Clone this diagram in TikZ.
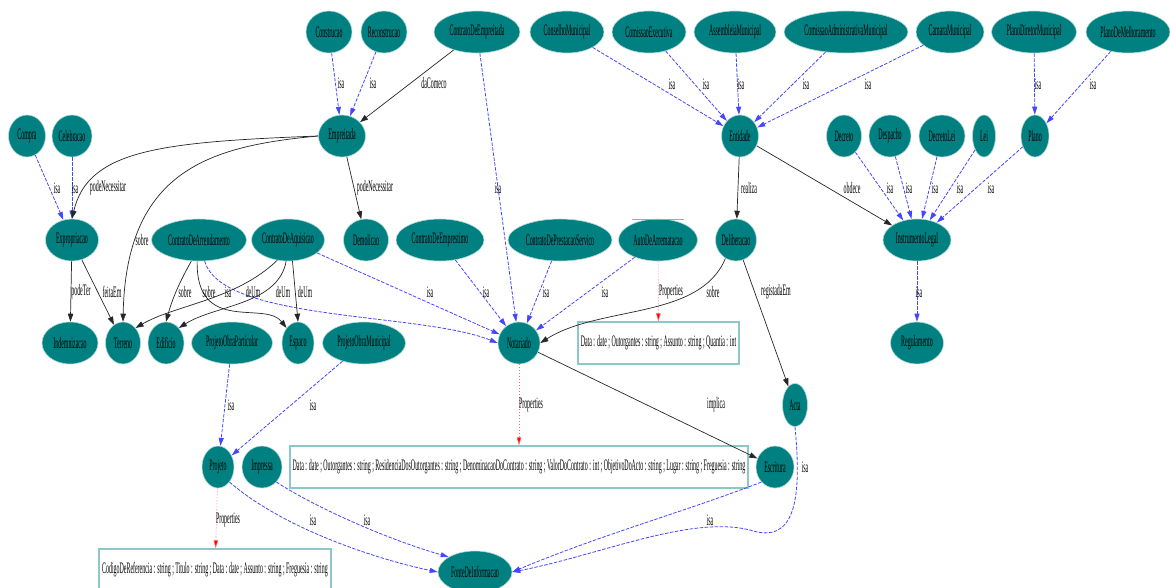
\documentclass[tikz,border=0pt]{standalone}
\usepackage{fontspec}
\setmainfont{Liberation Serif}[FakeStretch=0.37]
\usetikzlibrary{shapes.geometric,arrows.meta}
\definecolor{tealfill}{RGB}{0,128,128}
\definecolor{isablue}{RGB}{70,70,255}
\definecolor{boxline}{RGB}{140,200,200}
\tikzset{
  ent/.style={ellipse, fill=tealfill, draw=tealfill!30, line width=0.6pt, inner sep=0pt,
    minimum height=42pt, font=\fontsize{16}{18}\selectfont},
  propbox/.style={rectangle, draw=boxline, line width=1.4pt, fill=white, inner sep=0pt,
    minimum height=42pt, font=\fontsize{16}{18}\selectfont},
  lbl/.style={font=\fontsize{16}{18}\selectfont, inner sep=0pt},
  isa/.style={draw=isablue, line width=0.8pt, dash pattern=on 3.5pt off 1.5pt,
    -{Triangle[length=8pt,width=5pt,fill=isablue]}},
  rel/.style={draw=black!85, line width=0.7pt, -{Triangle[length=8pt,width=5.5pt]}},
  prop/.style={draw=red!60, line width=0.6pt, dash pattern=on 1pt off 2pt,
    -{Triangle[length=8pt,width=4.5pt,fill=red]}},
}
\begin{document}
\begin{tikzpicture}[x=1pt,y=-1pt]
\useasboundingbox (0,0) rectangle (1170,587);
% top row
\node[ent, minimum width=46pt] (Construcao) at (329,32) {Construcao};
\node[ent, minimum width=46pt] (Reconstrucao) at (384,32) {Reconstrucao};
\node[ent, minimum width=86pt] (ContratoDeEmpreitada) at (477,32) {ContratoDeEmpreitada};
\node[ent, minimum width=74pt] (ConselhoMunicipal) at (567,32) {ConselhoMunicipal};
\node[ent, minimum width=74pt] (ComissaoExecutiva) at (649,32) {ComissaoExecutiva};
\node[ent, minimum width=82pt] (AssembleiaMunicipal) at (735,32) {AssembleiaMunicipal};
\node[ent, minimum width=124pt] (ComissaoAdministrativaMunicipal) at (846,32) {ComissaoAdministrativaMunicipal};
\node[ent, minimum width=68pt] (CamaraMunicipal) at (950,32) {CamaraMunicipal};
\node[ent, minimum width=85pt] (PlanoDiretorMunicipal) at (1034,32) {PlanoDiretorMunicipal};
\node[ent, minimum width=84pt] (PlanoDeMelhoramento) at (1128,32) {PlanoDeMelhoramento};
% second row
\node[ent, minimum width=37pt] (Compra) at (27,136) {Compra};
\node[ent, minimum width=40pt] (Celebracao) at (72,136) {Celebracao};
\node[ent, minimum width=47pt] (Empreitada) at (342,136) {Empreitada};
\node[ent, minimum width=37pt] (Entidade) at (740,136) {Entidade};
\node[ent, minimum width=35pt] (Decreto) at (844,136) {Decreto};
\node[ent, minimum width=42pt] (Despacho) at (890,136) {Despacho};
\node[ent, minimum width=46pt] (DecretoLei) at (942,136) {DecretoLei};
\node[ent, minimum width=23pt] (Lei) at (984,136) {Lei};
\node[ent, minimum width=28pt] (Plano) at (1035,136) {Plano};
% third row
\node[ent, minimum width=53pt] (Expropriacao) at (72,240) {Expropriacao};
\node[ent, minimum width=95pt] (ContratoDeArrendamento) at (199,240) {ContratoDeArrendamento};
\node[ent, minimum width=68pt] (ContratoDeAquisicao) at (288,240) {ContratoDeAquisicao};
\node[ent, minimum width=45pt] (Demolicao) at (366,240) {Demolicao};
\node[ent, minimum width=88pt] (ContratoDeEmprestimo) at (440,240) {ContratoDeEmprestimo};
\node[ent, minimum width=104pt] (ContratoDePrestacaoServico) at (560,240) {ContratoDePrestacaoServico};
\node[ent, minimum width=79pt] (AutoDeArrematacao) at (658,240) {AutoDeArrematacao};
\node[ent, minimum width=41pt] (Deliberacao) at (736,240) {Deliberacao};
\node[ent, minimum width=68pt] (InstrumentoLegal) at (917,240) {InstrumentoLegal};
% fourth row
\node[ent, minimum width=56pt] (Indemnizacao) at (70,343) {Indemnizacao};
\node[ent, minimum width=35pt] (Terreno) at (123,343) {Terreno};
\node[ent, minimum width=36pt] (Edificio) at (166,343) {Edificio};
\node[ent, minimum width=81pt] (ProjetoObraParticular) at (232,343) {ProjetoObraParticular};
\node[ent, minimum width=32pt] (Espaco) at (298,343) {Espaco};
\node[ent, minimum width=83pt] (ProjetoObraMunicipal) at (364,343) {ProjetoObraMunicipal};
\node[ent, minimum width=42pt] (Notariado) at (519,343) {Notariado};
\node[propbox, minimum width=161pt] (PropAuto) at (658.5,343) {Data : date ; Outorgantes : string ; Assunto : string ; Quantia : int};
\node[ent, minimum width=53pt] (Regulamento) at (917,343) {Regulamento};
\node[ent, minimum width=25pt, minimum height=43pt] (Acta) at (795,405) {Acta};
% fifth row
\node[ent, minimum width=32pt] (Projeto) at (218,467) {Projeto};
\node[ent, minimum width=40pt] (Impressa) at (262,467) {Impressa};
\node[propbox, minimum width=458pt] (PropNotariado) at (519,467) {Data : date ; Outorgantes : string ; ResidenciaDosOutorgantes : string ; DenominacaoDoContrato : string ; ValorDoContrato : int ; ObjetivoDoActo : string ; Lugar : string ; Freguesia : string};
\node[ent, minimum width=38pt] (Escritura) at (775,467) {Escritura};
% bottom row
\node[propbox, minimum width=232pt] (PropProjeto) at (215,570) {CodigoDeReferencia : string ; Titulo : string ; Data : date ; Assunto : string ; Freguesia : string};
\node[ent, minimum width=74pt] (FonteDeInformacao) at (475,572) {FonteDeInformacao};
% small grey mark above AutoDeArrematacao
\coordinate (greyA) at (632,219.5);
\coordinate (greyB) at (684,219.5);
\draw[black!35, line width=0.6pt] (greyA) -- (greyB);

% edges: top
\draw[isa] (Construcao) -- (Empreitada) node[lbl] at (341,83) {isa};
\draw[isa] (Reconstrucao) -- (Empreitada) node[lbl] at (373,83) {isa};
\draw[rel] (ContratoDeEmpreitada) -- (Empreitada) node[lbl] at (434,83) {daComeco};
\draw[isa] (ContratoDeEmpreitada) -- (Notariado) node[lbl] at (498,188) {isa};
\draw[isa] (ConselhoMunicipal) -- (Entidade) node[lbl] at (672,84) {isa};
\draw[isa] (ComissaoExecutiva) -- (Entidade) node[lbl] at (706,84) {isa};
\draw[isa] (AssembleiaMunicipal) -- (Entidade) node[lbl] at (741,84) {isa};
\draw[isa] (ComissaoAdministrativaMunicipal) -- (Entidade) node[lbl] at (806,84) {isa};
\draw[isa] (CamaraMunicipal) -- (Entidade) node[lbl] at (868,84) {isa};
\draw[isa] (PlanoDiretorMunicipal) -- (Plano) node[lbl] at (1038,84) {isa};
\draw[isa] (PlanoDeMelhoramento) -- (Plano) node[lbl] at (1093,84) {isa};
% second level
\draw[isa] (Compra) -- (Expropriacao) node[lbl] at (57,188) {isa};
\draw[isa] (Celebracao) -- (Expropriacao) node[lbl] at (75,188) {isa};
\draw[rel] (Empreitada.west) .. controls (160,142) and (88,150) .. (Expropriacao.north) node[lbl] at (108,188) {podeNecessitar};
\draw[rel] (Empreitada.west) .. controls (210,146) and (126,170) .. (Terreno.north) node[lbl] at (142,240) {sobre};
\draw[rel] (Empreitada) -- (Demolicao) node[lbl] at (375,188) {podeNecessitar};
\draw[rel] (Entidade) -- (Deliberacao) node[lbl] at (749,188) {realiza};
\draw[rel] (Entidade) -- (InstrumentoLegal) node[lbl] at (852,188) {obdece};
\draw[isa] (Decreto) -- (InstrumentoLegal) node[lbl] at (890,188) {isa};
\draw[isa] (Despacho) -- (InstrumentoLegal) node[lbl] at (909,188) {isa};
\draw[isa] (DecretoLei) -- (InstrumentoLegal) node[lbl] at (935,188) {isa};
\draw[isa] (Lei) -- (InstrumentoLegal) node[lbl] at (960,188) {isa};
\draw[isa] (Plano) -- (InstrumentoLegal) node[lbl] at (991,188) {isa};
% third level
\draw[rel] (Expropriacao) -- (Indemnizacao) node[lbl] at (81,292) {podeTer};
\draw[rel] (Expropriacao) -- (Terreno) node[lbl] at (112,292) {feitaEm};
\draw[rel] (ContratoDeArrendamento.250) .. controls (178,285) and (172,300) .. (Edificio.north) node[lbl] at (185,292) {sobre};
\draw[rel] (ContratoDeArrendamento.265) .. controls (196,335) and (265,300) .. (Espaco.north west) node[lbl] at (209,292) {sobre};
\draw[isa] (ContratoDeArrendamento.285) .. controls (222,322) and (420,312) .. (Notariado.west) node[lbl] at (228,292) {isa};
\draw[rel] (ContratoDeAquisicao.242) .. controls (236,300) and (175,305) .. (Terreno.north east) node[lbl] at (253,292) {deUm};
\draw[rel] (ContratoDeAquisicao.265) .. controls (278,305) and (215,305) .. (Edificio.north east) node[lbl] at (283,292) {deUm};
\draw[rel] (ContratoDeAquisicao.282) -- (Espaco.north) node[lbl] at (305,292) {deUm};
\draw[isa] (ContratoDeAquisicao) -- (Notariado) node[lbl] at (430,292) {isa};
\draw[isa] (ContratoDeEmprestimo) -- (Notariado) node[lbl] at (486,292) {isa};
\draw[isa] (ContratoDePrestacaoServico) -- (Notariado) node[lbl] at (546,292) {isa};
\draw[isa] (AutoDeArrematacao) -- (Notariado) node[lbl] at (605,292) {isa};
\draw[prop] (AutoDeArrematacao) -- (PropAuto) node[lbl] at (671,292) {Properties};
\draw[rel] (Deliberacao.240) .. controls (700,320) and (600,305) .. (Notariado.east) node[lbl] at (713,292) {sobre};
\draw[rel] (Deliberacao) -- (Acta) node[lbl] at (776,292) {registadaEm};
\draw[isa] (InstrumentoLegal) -- (Regulamento) node[lbl] at (919,292) {isa};
% fourth level
\draw[isa] (ProjetoObraParticular) -- (Projeto) node[lbl] at (231,405) {isa};
\draw[isa] (ProjetoObraMunicipal) -- (Projeto) node[lbl] at (313,405) {isa};
\draw[prop] (Notariado) -- (PropNotariado) node[lbl] at (531,405) {Properties};
\draw[rel] (Notariado) -- (Escritura) node[lbl] at (716,405) {implica};
% fifth level
\draw[prop] (Projeto) -- (PropProjeto) node[lbl] at (228,520) {Properties};
\draw[isa] (Projeto.south east) .. controls (285,530) and (380,560) .. (FonteDeInformacao.west) node[lbl] at (313,520) {isa};
\draw[isa] (Impressa.south east) .. controls (320,510) and (390,540) .. (FonteDeInformacao.north west) node[lbl] at (367,520) {isa};
\draw[isa] (Escritura.south west) .. controls (690,510) and (600,535) .. (FonteDeInformacao.east) node[lbl] at (710,520) {isa};
\draw[isa] (Acta.south) .. controls (802,500) and (795,545) .. (750,530) .. controls (690,515) and (600,555) .. (FonteDeInformacao.east) node[lbl] at (805,467) {isa};
\end{tikzpicture}
\end{document}
